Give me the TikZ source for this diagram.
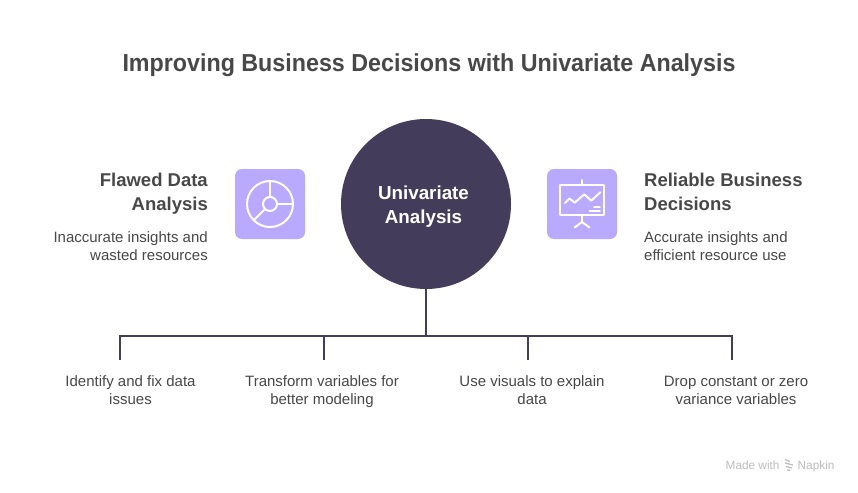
\documentclass[tikz,border=0pt]{standalone}
\usepackage{fontspec}
\setmainfont{Liberation Sans}
\newfontfamily\titlefont[FakeStretch=0.946]{Liberation Sans}
\definecolor{ink}{HTML}{433C5A}
\definecolor{lilac}{HTML}{B9A9FF}
\definecolor{txt}{HTML}{484848}
\definecolor{wmgrey}{HTML}{BDBDBD}
\tikzset{
  x=1pt,y=-1pt,
  title/.style={font=\titlefont\fontsize{24.6}{30}\selectfont\bfseries,text=txt,inner sep=0pt},
  head/.style={font=\fontsize{18.5}{24}\selectfont\bfseries,text=txt,inner sep=0pt,align=#1},
  body/.style={font=\fontsize{15}{18}\selectfont,text=txt,inner sep=0pt,align=#1},
  tile/.style={fill=lilac,rounded corners=7pt,draw=none},
  glyph/.style={draw=white,line width=2pt,line cap=round,line join=round},
  wire/.style={draw=ink,line width=2pt},
  wmark/.style={anchor=west,inner sep=0pt,font=\fontsize{11.8}{14}\selectfont,text=wmgrey},
}
\begin{document}
\begin{tikzpicture}
\useasboundingbox (0,0) rectangle (858,492);
\fill[white] (0,0) rectangle (858,492);
\node[title] (t) at (429,65) {Improving Business Decisions with Univariate Analysis};

% connectors
\coordinate (j0) at (426,335.5);
\coordinate (b1) at (120,335.5);
\coordinate (b2) at (324,335.5);
\coordinate (b3) at (528,335.5);
\coordinate (b4) at (732,335.5);
\coordinate (e1) at (120,360);
\coordinate (e2) at (324,360);
\coordinate (e3) at (528,360);
\coordinate (e4) at (732,360);
\node[circle,fill=ink,minimum size=170pt,inner sep=0pt] (c) at (426,204) {};
\node[text=white,align=center,inner sep=0pt,font=\fontsize{18.8}{24}\selectfont\bfseries] (cl) at (423.5,207) {Univariate\\Analysis};
\draw[wire] (c.south) -- (j0);
\draw[wire,line cap=butt] (e1) -- (b1) -- (b4) -- (e4);
\draw[wire] (b2) -- (e2);
\draw[wire] (b3) -- (e3);

% left
\node[head=right,anchor=east] (l1) at (208,193.5) {Flawed Data\\Analysis};
\node[body=right,anchor=east] (l2) at (208,246) {Inaccurate insights and\\wasted resources};
\fill[tile] (235,169) rectangle (305,239);
\draw[glyph] (270,204) circle (23);
\draw[glyph] (270,204) circle (7);
\draw[glyph] (270,181) -- (270,197);
\draw[glyph] (277,204) -- (293,204);
\draw[glyph] (265,209) -- (254,220);

% right
\node[head=left,anchor=west] (r1) at (644,192) {Reliable Business\\Decisions};
\node[body=left,anchor=west] (r2) at (644,246) {Accurate insights and\\efficient resource use};
\fill[tile] (547,169) rectangle (617,239);
\draw[glyph] (560,185) rectangle (604,215);
\draw[glyph] (582,180) -- (582,185);
\draw[glyph] (582,215) -- (582,222);
\draw[glyph] (574.5,227.5) -- (582,222) -- (589.5,227.5);
\draw[glyph] (565,203) -- (569.5,198.5) -- (574.7,202.7) -- (584.3,194.3) -- (591.3,200.7) -- (600.3,192.3);
\draw[glyph,line width=1.6pt] (594,206.7) -- (600,206.7);
\draw[glyph,line width=1.6pt] (589.5,211) -- (600,211);

% bottom labels
\node[body=center] (b1t) at (130.5,390) {Identify and fix data\\issues};
\node[body=center] (b2t) at (322,392) {Transform variables for\\better modeling};
\node[body=center] (b3t) at (532,390) {Use visuals to explain\\data};
\node[body=center] (b4t) at (736,390) {Drop constant or zero\\variance variables};

% watermark
\node[wmark] (m1) at (725.5,465) {Made with};
\node[wmark] (m2) at (797.5,466) {Napkin};
\draw[wmgrey,line width=1.3pt] (785,459.5) -- (790,461.5) (785,463) -- (793,465) (786,466.5) -- (792,468) (787,470) -- (790,470.5);
\end{tikzpicture}
\end{document}
